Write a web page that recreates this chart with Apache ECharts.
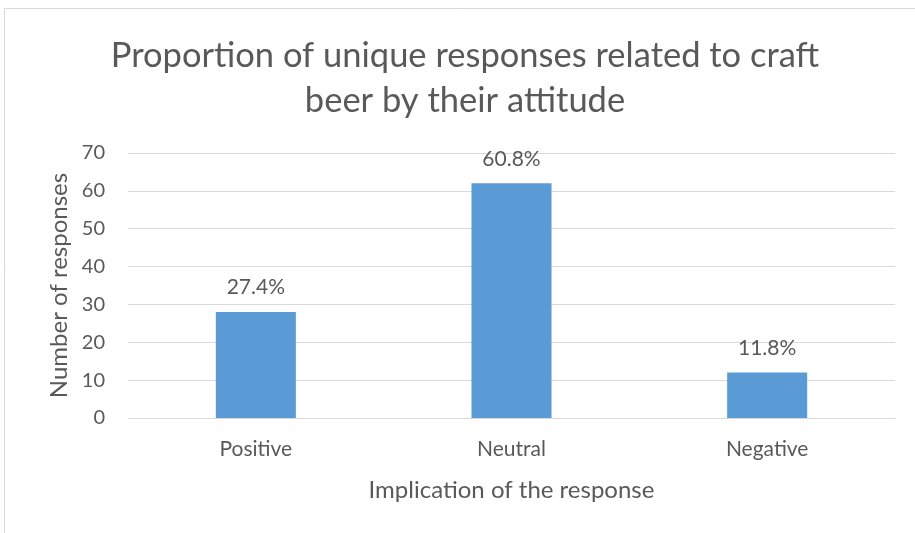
<!DOCTYPE html>
<html>
<head>
<meta charset="utf-8">
<script src="https://cdn.jsdelivr.net/npm/echarts@6/dist/echarts.min.js"></script>
<style>
  html, body { margin: 0; padding: 0; background: #fff; }
  #chart { width: 915px; height: 533px; }
</style>
</head>
<body>
<div id="chart"></div>
<script>
// Response counts grouped by attitude
const categories = ['Positive', 'Neutral', 'Negative'];
const responseCounts = [28, 62, 12];
const shareLabels = ['27.4%', '60.8%', '11.8%'];
const chartTitle = 'Proportion of unique responses related to craft\nbeer by their attitude';

const FONT = 'Lato, "Open Sans", sans-serif';
const TEXT = '#595959';

const chart = echarts.init(document.getElementById('chart'), null, { renderer: 'canvas' });

chart.setOption({
  animation: false,
  backgroundColor: '#ffffff',
  textStyle: { fontFamily: FONT },
  graphic: [
    {
      // chart frame
      type: 'rect',
      shape: { x: 4.5, y: 8.5, width: 930, height: 560 },
      style: { fill: 'none', stroke: '#d9d9d9', lineWidth: 1 },
      silent: true
    },
    {
      // two-line title, centred over the frame
      type: 'text',
      x: 465,
      y: 33,
      silent: true,
      style: {
        text: chartTitle,
        align: 'center',
        verticalAlign: 'top',
        font: 'normal 34.5px ' + FONT,
        fill: TEXT,
        lineHeight: 45
      }
    }
  ],
  grid: { left: 128, right: 20, top: 153, bottom: 115, containLabel: false },
  xAxis: {
    type: 'category',
    data: categories,
    name: 'Implication of the response',
    nameLocation: 'middle',
    nameGap: 60,
    nameTextStyle: { fontFamily: FONT, fontSize: 24, color: TEXT },
    axisLine: { show: true, lineStyle: { color: '#d9d9d9', width: 1 } },
    axisTick: { show: false },
    axisLabel: { fontFamily: FONT, fontSize: 21, color: TEXT, margin: 21 }
  },
  yAxis: {
    type: 'value',
    min: 0, max: 70, interval: 10,
    name: 'Number of responses',
    nameLocation: 'middle',
    nameGap: 55,
    nameTextStyle: { fontFamily: FONT, fontSize: 24, color: TEXT },
    axisLine: { show: false },
    axisTick: { show: false },
    axisLabel: { fontFamily: FONT, fontSize: 20, color: TEXT, margin: 23 },
    splitLine: { lineStyle: { color: '#d9d9d9', width: 1 } }
  },
  series: [{
    type: 'bar',
    data: responseCounts,
    barWidth: '31.3%',
    itemStyle: { color: '#5b9bd5' },
    label: {
      show: true,
      position: 'top',
      distance: 14,
      fontFamily: FONT, fontSize: 21, color: TEXT,
      formatter: p => shareLabels[p.dataIndex]
    }
  }]
});
</script>
</body>
</html>
